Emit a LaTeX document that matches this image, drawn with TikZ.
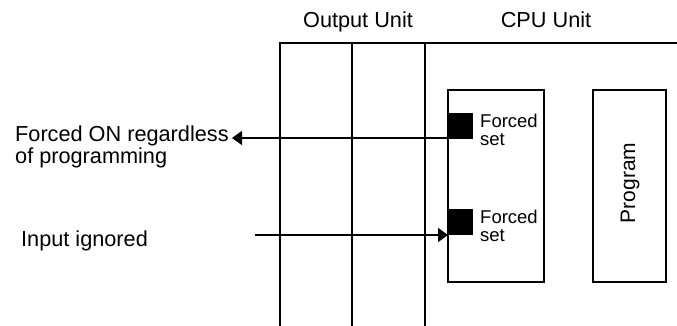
\documentclass[tikz,border=0pt]{standalone}
\usepackage{fontspec}
\setmainfont{Liberation Sans}
\usetikzlibrary{arrows.meta}
\tikzset{
  unitline/.style={line width=2pt, line join=miter},
  boxline/.style={draw, line width=2pt, inner sep=0pt, outer sep=0pt, anchor=north west},
  fsquare/.style={fill=black, draw=none, inner sep=0pt, outer sep=0pt, minimum width=25pt, minimum height=26pt, anchor=north west},
  bigtext/.style={font=\fontsize{21.7}{19.5}\selectfont, inner sep=0pt, align=left},
  smalltext/.style={font=\fontsize{18.5}{18}\selectfont, inner sep=0pt, align=left},
  arr/.style={line width=1.7pt, -{Triangle[length=10pt,width=14pt]}}
}
\begin{document}
\begin{tikzpicture}[x=1pt,y=-1pt]
\useasboundingbox (0,0) rectangle (677,326);
% unit outline
\draw[unitline] (280,326) -- (280,43) -- (677,43);
\draw[unitline] (352,43) -- (352,326);
\draw[unitline] (425,43) -- (425,326);
% headings
\node[bigtext, anchor=base] (outlab) at (358,28) {Output Unit};
\node[bigtext, anchor=base] (cpulab) at (546,28) {CPU Unit};
% boxes inside CPU
\node[boxline, minimum width=96pt, minimum height=192pt] (forcebox) at (448,90) {};
\node[boxline, minimum width=73pt, minimum height=192pt] (progbox) at (593,90) {};
\node[font=\fontsize{21}{24}\selectfont, rotate=90, inner sep=0pt] (prog) at (630,183) {Program};
% forced bits
\node[fsquare] (sq1) at (448,113) {};
\node[fsquare] (sq2) at (448,209) {};
\node[smalltext, anchor=base west] (fs1) at (480,146) {Forced\\set};
\node[smalltext, anchor=base west] (fs2) at (480,241) {Forced\\set};
% left labels
\node[bigtext, anchor=base west] (lab1) at (15,163) {Forced ON regardless\\of programming};
\node[bigtext, anchor=base west] (lab2) at (21,246) {Input ignored};
\coordinate (t1) at (232,138);
\coordinate (s2) at (255,235);
\draw[arr] (sq1.south west |- t1) -- (t1);
\draw[arr] (s2) -- (sq2.west |- s2);
\end{tikzpicture}
\end{document}
